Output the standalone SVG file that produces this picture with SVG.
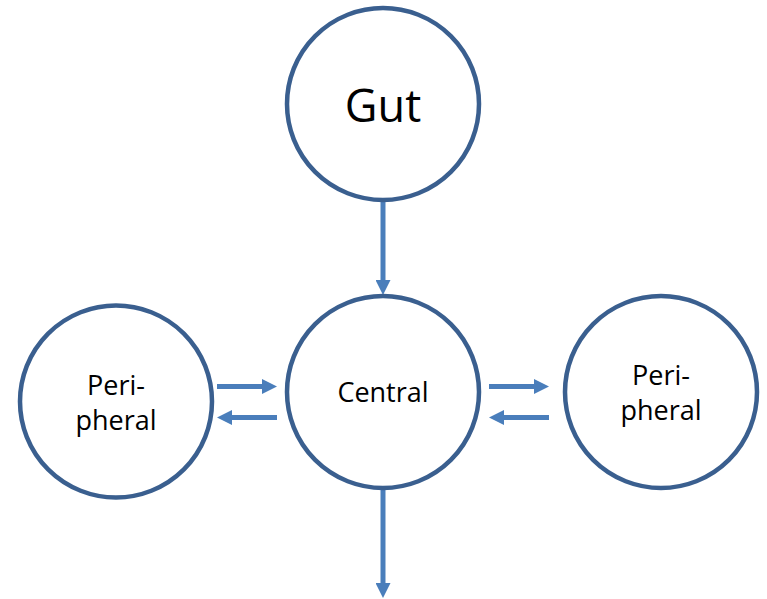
<svg xmlns="http://www.w3.org/2000/svg" width="767" height="599" viewBox="0 0 767 599">
<style>
.node{fill:#FFFFFF;stroke:#3A5F8F;stroke-width:4.5}
.lbl{font-family:"Open Sans","Noto Sans",sans-serif;fill:#000;text-anchor:middle}
.conn{stroke:#4A7EBB;stroke-width:5;fill:none}
</style>
<defs>
<marker id="ah" markerWidth="3" markerHeight="3" refX="0" refY="1.5" orient="auto" markerUnits="strokeWidth">
<path d="M0,0 L3,1.5 L0,3 Z" fill="#4A7EBB"/>
</marker>
</defs>
<rect width="767" height="599" fill="#FFFFFF"/>
<g id="connectors">
<line class="conn" x1="383" y1="201" x2="383" y2="280" marker-end="url(#ah)"/>
<line class="conn" x1="383" y1="490" x2="383" y2="583" marker-end="url(#ah)"/>
<line class="conn" x1="217" y1="386.5" x2="262" y2="386.5" marker-end="url(#ah)"/>
<line class="conn" x1="277" y1="417.5" x2="232" y2="417.5" marker-end="url(#ah)"/>
<line class="conn" x1="489" y1="386.5" x2="534" y2="386.5" marker-end="url(#ah)"/>
<line class="conn" x1="549" y1="417.5" x2="504" y2="417.5" marker-end="url(#ah)"/>
</g>
<g id="gut">
<circle class="node" cx="383" cy="104" r="96"/>
<text class="lbl" x="383" y="122" font-size="45">Gut</text>
</g>
<g id="central">
<circle class="node" cx="383" cy="392" r="96"/>
<text class="lbl" x="383" y="402" font-size="27">Central</text>
</g>
<g id="peripheral-left">
<circle class="node" cx="116" cy="401.5" r="96"/>
<text class="lbl" x="116" y="395" font-size="27">Peri-</text>
<text class="lbl" x="116" y="430" font-size="27">pheral</text>
</g>
<g id="peripheral-right">
<circle class="node" cx="661" cy="392" r="96"/>
<text class="lbl" x="661" y="385" font-size="27">Peri-</text>
<text class="lbl" x="661" y="420" font-size="27">pheral</text>
</g>
</svg>
